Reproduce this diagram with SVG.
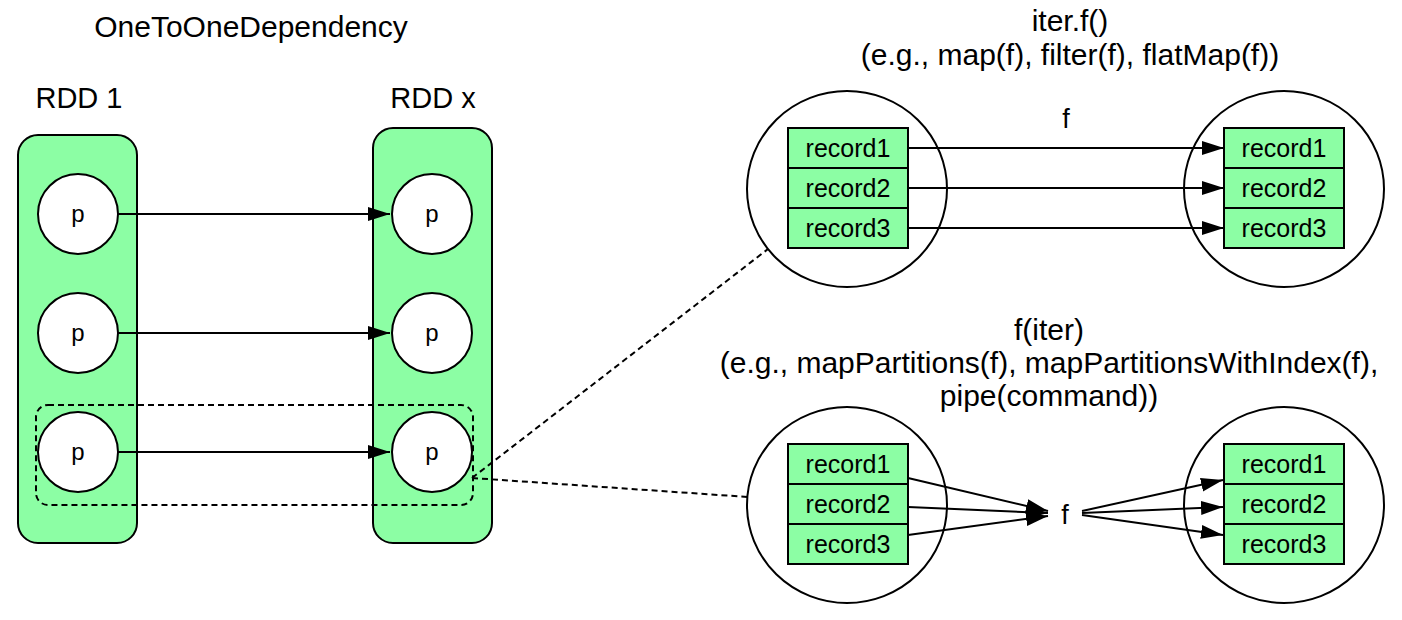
<svg xmlns="http://www.w3.org/2000/svg" width="1402" height="620" viewBox="0 0 1402 620">
  <style>
    text { font-family: "Liberation Sans", Arial, Helvetica, sans-serif; fill: #000; }
    .title { font-size: 30px; text-anchor: middle; }
    .lbl { font-size: 29px; text-anchor: middle; }
    .rec { font-size: 25px; text-anchor: middle; }
    .p { font-size: 24px; text-anchor: middle; }
    .fl { font-size: 27px; text-anchor: middle; }
    .rdd { fill: #8cfea4; stroke: #000; stroke-width: 2; }
    .part { fill: #fff; stroke: #000; stroke-width: 2; }
    .recbox { fill: #8cfea4; stroke: #000; stroke-width: 2; }
    .ell { fill: #fff; stroke: #000; stroke-width: 2; }
    .arr { stroke: #000; stroke-width: 2; fill: none; marker-end: url(#ah); }
    .dash { stroke: #000; stroke-width: 2; fill: none; stroke-dasharray: 6 4; }
  </style>
  <defs>
    <marker id="ah" markerUnits="userSpaceOnUse" markerWidth="24" markerHeight="16" refX="22" refY="7" orient="auto">
      <path d="M0,0 L22,7 L0,14 Z" fill="#000"/>
    </marker>
  </defs>
  <rect width="1402" height="620" fill="#fff"/>

  <!-- titles -->
  <text class="title" x="251" y="37">OneToOneDependency</text>
  <text class="title" x="1070" y="31">iter.f()</text>
  <text class="title" x="1070" y="65">(e.g., map(f), filter(f), flatMap(f))</text>
  <text class="title" x="1049" y="340">f(iter)</text>
  <text class="title" x="1049" y="373">(e.g., mapPartitions(f), mapPartitionsWithIndex(f),</text>
  <text class="title" x="1049" y="406">pipe(command))</text>

  <!-- RDD 1 -->
  <g id="rdd1">
    <text class="lbl" x="79" y="108">RDD 1</text>
    <rect class="rdd" x="18" y="135" width="119" height="408" rx="20"/>
  </g>
  <g id="rddx">
    <text class="lbl" x="433" y="108">RDD x</text>
    <rect class="rdd" x="373" y="128" width="119" height="415" rx="20"/>
  </g>
  <g id="p1a"><circle class="part" cx="78" cy="214" r="40"/><text class="p" x="78" y="222">p</text></g>
  <g id="p2a"><circle class="part" cx="78" cy="333" r="40"/><text class="p" x="78" y="341">p</text></g>
  <g id="p3a"><circle class="part" cx="78" cy="452" r="40"/><text class="p" x="78" y="460">p</text></g>
  <g id="p1b"><circle class="part" cx="432" cy="214" r="40"/><text class="p" x="432" y="222">p</text></g>
  <g id="p2b"><circle class="part" cx="432" cy="333" r="40"/><text class="p" x="432" y="341">p</text></g>
  <g id="p3b"><circle class="part" cx="432" cy="452" r="40"/><text class="p" x="432" y="460">p</text></g>

  <!-- top ellipses -->
  <g id="topLeft">
    <ellipse class="ell" cx="847" cy="189" rx="100" ry="98"/>
    <rect class="recbox" x="788" y="128" width="120" height="40"/>
    <rect class="recbox" x="788" y="168" width="120" height="40"/>
    <rect class="recbox" x="788" y="208" width="120" height="40"/>
    <text class="rec" x="848" y="157">record1</text>
    <text class="rec" x="848" y="197">record2</text>
    <text class="rec" x="848" y="237">record3</text>
  </g>
  <g id="topRight">
    <ellipse class="ell" cx="1284" cy="189" rx="100" ry="98"/>
    <rect class="recbox" x="1224" y="128" width="120" height="40"/>
    <rect class="recbox" x="1224" y="168" width="120" height="40"/>
    <rect class="recbox" x="1224" y="208" width="120" height="40"/>
    <text class="rec" x="1284" y="157">record1</text>
    <text class="rec" x="1284" y="197">record2</text>
    <text class="rec" x="1284" y="237">record3</text>
  </g>
  <g id="botLeft">
    <ellipse class="ell" cx="847" cy="505" rx="100" ry="98"/>
    <rect class="recbox" x="788" y="444" width="120" height="40"/>
    <rect class="recbox" x="788" y="484" width="120" height="40"/>
    <rect class="recbox" x="788" y="524" width="120" height="40"/>
    <text class="rec" x="848" y="473">record1</text>
    <text class="rec" x="848" y="513">record2</text>
    <text class="rec" x="848" y="553">record3</text>
  </g>
  <g id="botRight">
    <ellipse class="ell" cx="1284" cy="505" rx="100" ry="98"/>
    <rect class="recbox" x="1224" y="444" width="120" height="40"/>
    <rect class="recbox" x="1224" y="484" width="120" height="40"/>
    <rect class="recbox" x="1224" y="524" width="120" height="40"/>
    <text class="rec" x="1284" y="473">record1</text>
    <text class="rec" x="1284" y="513">record2</text>
    <text class="rec" x="1284" y="553">record3</text>
  </g>
  <g id="fTop"><text class="fl" x="1066" y="128">f</text></g>
  <g id="fBot"><text class="fl" x="1065" y="524">f</text></g>

  <!-- connectors -->
  <g id="connectors">
    <line class="arr" x1="118" y1="214" x2="390" y2="214"/>
    <line class="arr" x1="118" y1="333" x2="390" y2="333"/>
    <line class="arr" x1="118" y1="452" x2="390" y2="452"/>
    <rect class="dash" x="36" y="405" width="437" height="100" rx="12"/>
    <line class="dash" x1="472" y1="478" x2="768" y2="249"/>
    <line class="dash" x1="472" y1="478" x2="748" y2="497"/>
    <line class="arr" x1="908" y1="148" x2="1224" y2="148"/>
    <line class="arr" x1="908" y1="188" x2="1224" y2="188"/>
    <line class="arr" x1="908" y1="228" x2="1224" y2="228"/>
    <line class="arr" x1="908" y1="478" x2="1048" y2="511"/>
    <line class="arr" x1="908" y1="507" x2="1048" y2="513"/>
    <line class="arr" x1="908" y1="535" x2="1048" y2="516"/>
    <line class="arr" x1="1082" y1="511" x2="1223" y2="480"/>
    <line class="arr" x1="1082" y1="513" x2="1223" y2="507"/>
    <line class="arr" x1="1082" y1="515" x2="1223" y2="535"/>
  </g>
</svg>
